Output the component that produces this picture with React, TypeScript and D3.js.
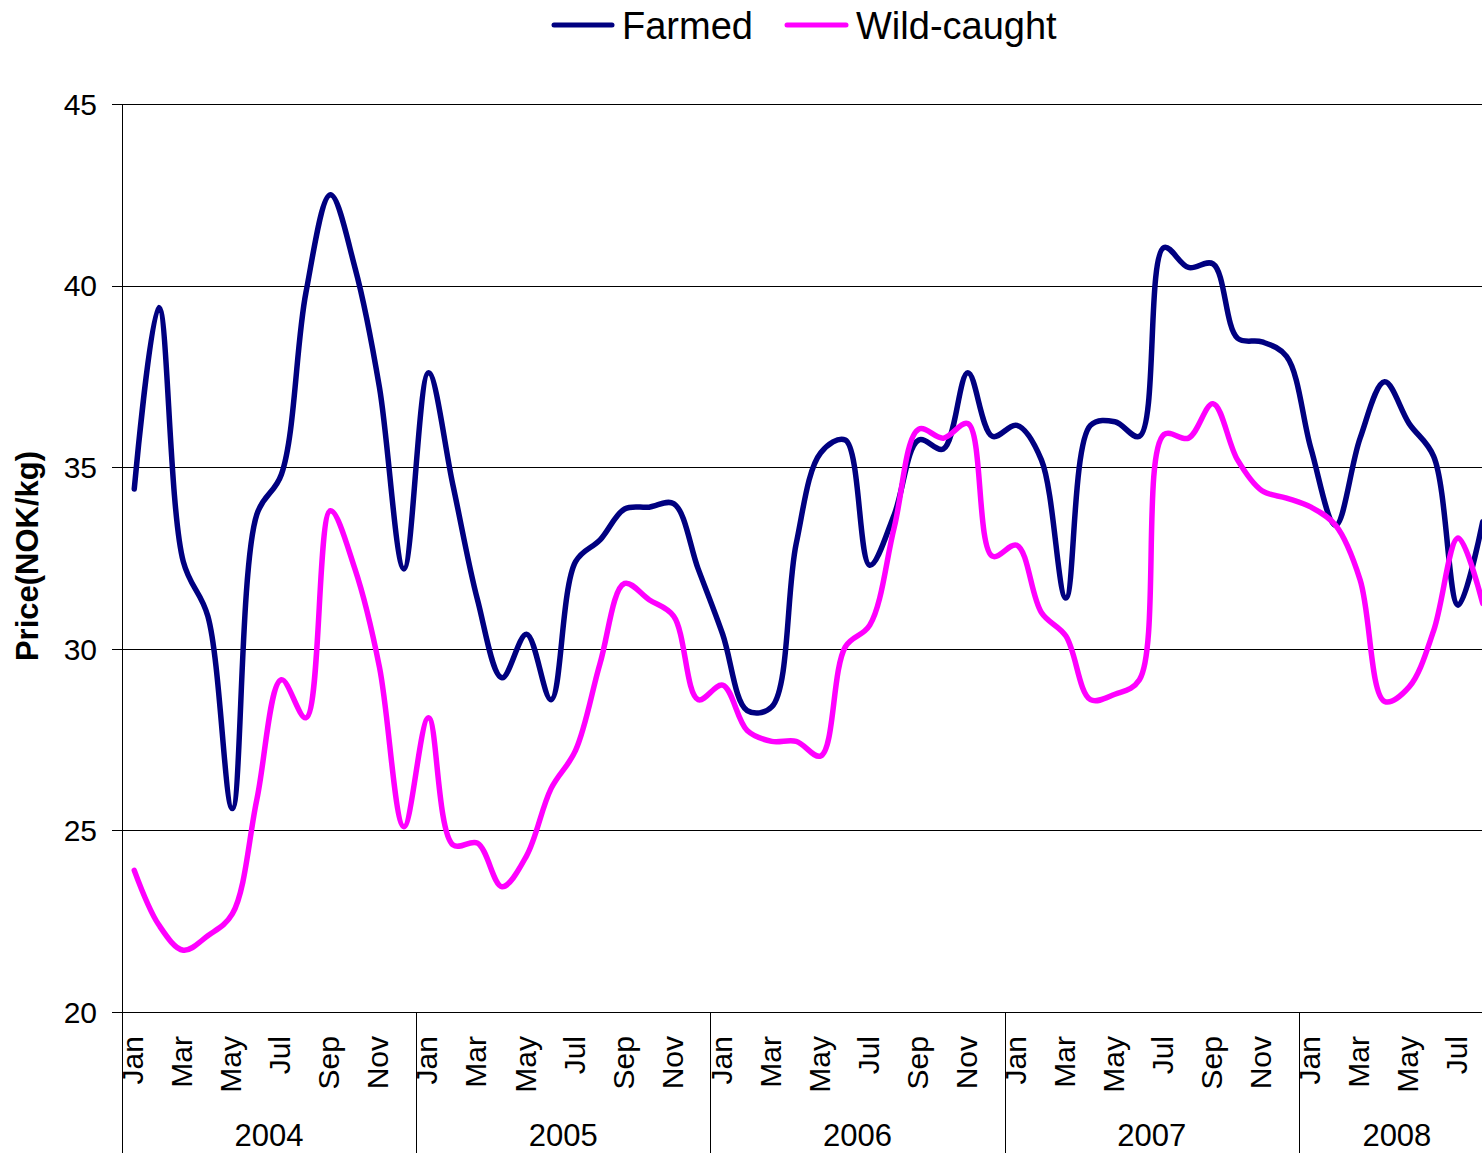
import React from "react";
import * as d3 from "d3";

const years = ["2004", "2005", "2006", "2007", "2008"];
const monthLabels = ["Jan", "Feb", "Mar", "Apr", "May", "Jun", "Jul", "Aug", "Sep", "Oct", "Nov", "Dec"];
const yTicks = [20, 25, 30, 35, 40, 45];

const farmed = [
  34.4, 39.4, 32.4, 30.9, 25.6, 33.7, 34.8, 39.8, 42.5, 40.5, 37.2, 32.2,
  37.6, 34.5, 31.35, 29.2, 30.4, 28.6, 32.4, 33.0, 33.85, 33.9, 34.0, 32.2,
  30.4, 28.3, 28.4, 32.9, 35.4, 35.75, 32.3, 33.7, 35.75, 35.5, 37.6, 35.85,
  36.15, 35.2, 31.4, 36.15, 36.25, 35.85, 41.05, 40.5, 40.6, 38.55, 38.45, 38.05,
  35.5, 33.4, 35.8, 37.35, 36.2, 35.3, 31.2, 33.5,
];

const wild = [
  23.9, 22.4, 21.7, 22.1, 22.7, 25.85, 29.15, 28.1, 33.8, 32.2, 29.5, 25.1,
  28.1, 24.6, 24.65, 23.45, 24.3, 26.15, 27.2, 29.6, 31.8, 31.35, 30.9, 28.6,
  29.0, 27.75, 27.45, 27.45, 27.05, 30.05, 30.65, 33.35, 36.05, 35.8, 36.2, 32.55,
  32.85, 31.0, 30.35, 28.6, 28.75, 29.15, 35.9, 35.8, 36.75, 35.2, 34.35, 34.15,
  33.9, 33.4, 31.9, 28.55, 28.95, 30.5, 33.05, 31.25,
];

const seriesNames = ["Farmed", "Wild-caught"];
const seriesColors = ["#000080", "#FF00FF"];

const W = 1482;
const H = 1153;
const left = 122;
const right = 1482;
const top = 104;
const bottom = 1012;
const monthW = 24.517;

export default function App() {
  const nMonths = farmed.length;
  const x = d3.scaleLinear().domain([0, 60]).range([left, left + 60 * monthW]);
  const y = d3.scaleLinear().domain([20, 45]).range([bottom, top]);
  const line = d3
    .line<number>()
    .x((_, i) => x(i + 0.5))
    .y((d) => y(d))
    .curve(d3.curveCatmullRom.alpha(0.5));

  const font = "Arial, 'Liberation Sans', sans-serif";

  return (
    <svg
      width={W}
      height={H}
      style={{ position: "absolute", left: 0, top: 0, background: "#fff" }}
      fontFamily={font}
    >
      <rect x={0} y={0} width={W} height={H} fill="#fff" />
      {yTicks.map((t) => (
        <g key={t}>
          <line
            x1={112}
            x2={right}
            y1={Math.round(y(t)) + 0.5}
            y2={Math.round(y(t)) + 0.5}
            stroke="#000"
            strokeWidth={1}
          />
          <text x={97} y={y(t)} dy="0.36em" textAnchor="end" fontSize={30} fill="#000">
            {t}
          </text>
        </g>
      ))}
      <line x1={left + 0.5} x2={left + 0.5} y1={top} y2={H} stroke="#000" />
      {years.map((yr, k) => {
        const start = k * 12;
        const end = Math.min((k + 1) * 12, nMonths);
        return (
          <g key={yr}>
            {k > 0 && (
              <line
                x1={Math.round(x(start)) + 0.5}
                x2={Math.round(x(start)) + 0.5}
                y1={bottom}
                y2={H}
                stroke="#000"
              />
            )}
            <text x={x((start + end) / 2)} y={1146} textAnchor="middle" fontSize={31} fill="#000">
              {yr}
            </text>
          </g>
        );
      })}
      {d3.range(nMonths).map((i) =>
        i % 2 === 0 ? (
          <text
            key={i}
            transform={`translate(${x(i + 0.5) + 9},${1036}) rotate(-90)`}
            textAnchor="end"
            fontSize={30}
            fill="#000"
          >
            {monthLabels[i % 12]}
          </text>
        ) : null
      )}
      <text
        transform={`translate(38,556) rotate(-90)`}
        textAnchor="middle"
        fontSize={31}
        fontWeight="bold"
        fill="#000"
      >
        Price(NOK/kg)
      </text>
      {[farmed, wild].map((s, k) => (
        <path
          key={k}
          d={line(s) || ""}
          fill="none"
          stroke={seriesColors[k]}
          strokeWidth={5.5}
          strokeLinejoin="round"
          strokeLinecap="round"
        />
      ))}
      <g>
        <line x1={554} x2={612} y1={25} y2={25} stroke={seriesColors[0]} strokeWidth={5} strokeLinecap="round" />
        <text x={622} y={39} fontSize={38} fill="#000">
          {seriesNames[0]}
        </text>
        <line x1={787} x2={846} y1={25} y2={25} stroke={seriesColors[1]} strokeWidth={5} strokeLinecap="round" />
        <text x={856} y={39} fontSize={38} fill="#000">
          {seriesNames[1]}
        </text>
      </g>
    </svg>
  );
}
